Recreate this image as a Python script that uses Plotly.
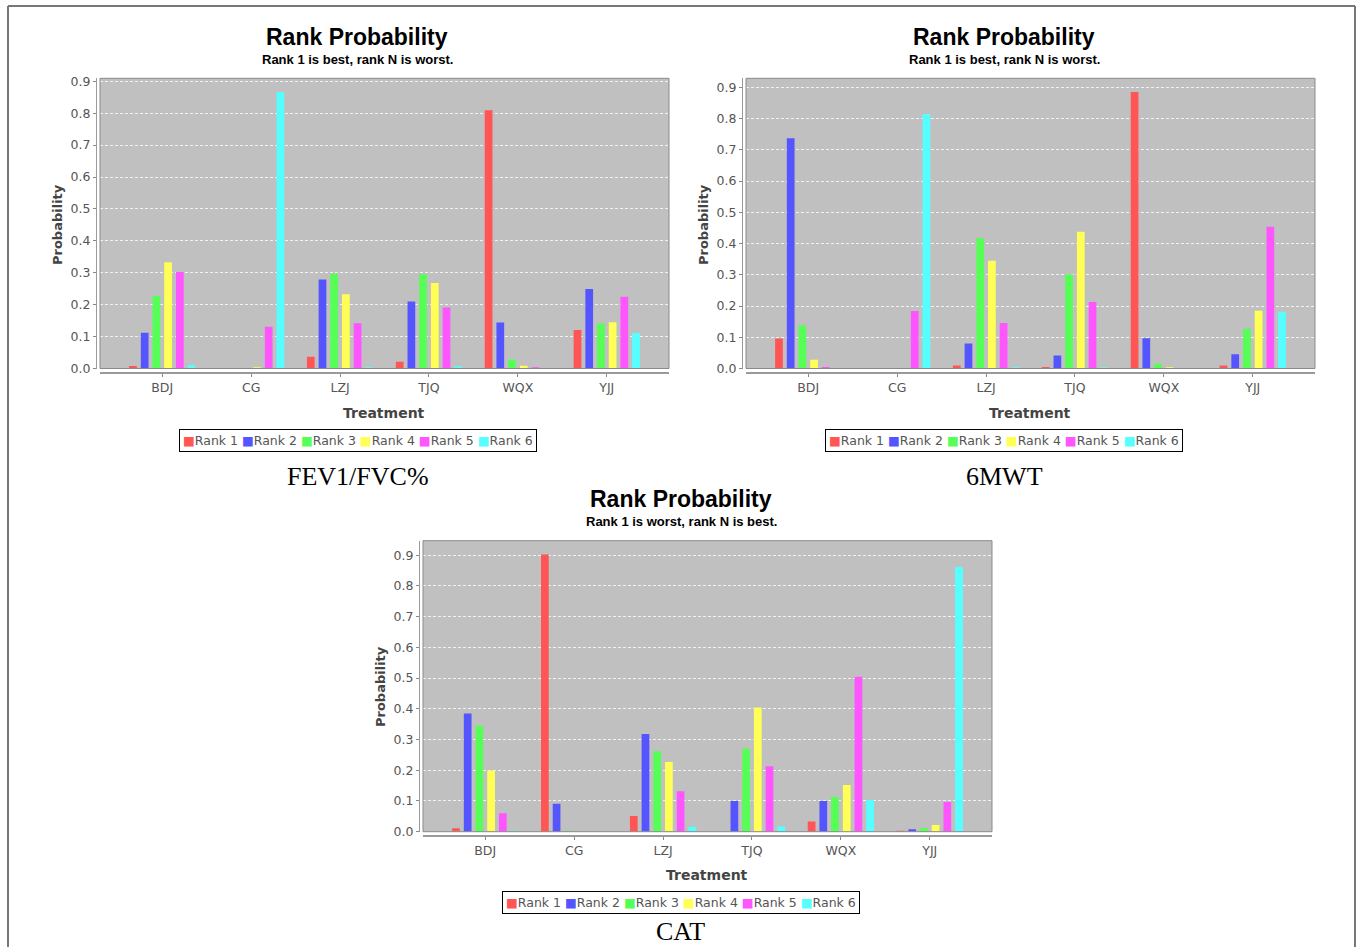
import plotly.graph_objects as go

W, H = 1357, 947

categories = ["BDJ", "CG", "LZJ", "TJQ", "WQX", "YJJ"]
rank_names = ["Rank 1", "Rank 2", "Rank 3", "Rank 4", "Rank 5", "Rank 6"]
rank_colors = ["#FF5555", "#5555FF", "#55FF55", "#FFFF55", "#FF55FF", "#55FFFF"]

# FEV1/FVC% : one list per rank, values across categories
fev_rank1 = [0.008, 0.000, 0.037, 0.021, 0.809, 0.121]
fev_rank2 = [0.112, 0.000, 0.279, 0.210, 0.144, 0.249]
fev_rank3 = [0.227, 0.000, 0.297, 0.295, 0.028, 0.141]
fev_rank4 = [0.333, 0.004, 0.233, 0.268, 0.009, 0.145]
fev_rank5 = [0.302, 0.131, 0.142, 0.191, 0.004, 0.225]
fev_rank6 = [0.010, 0.866, 0.004, 0.007, 0.000, 0.111]

# 6MWT
mwt_rank1 = [0.096, 0.000, 0.010, 0.005, 0.885, 0.010]
mwt_rank2 = [0.737, 0.000, 0.080, 0.042, 0.097, 0.046]
mwt_rank3 = [0.138, 0.000, 0.417, 0.302, 0.015, 0.127]
mwt_rank4 = [0.028, 0.000, 0.345, 0.438, 0.004, 0.185]
mwt_rank5 = [0.005, 0.184, 0.146, 0.213, 0.000, 0.454]
mwt_rank6 = [0.000, 0.815, 0.002, 0.002, 0.000, 0.182]

# CAT
cat_rank1 = [0.011, 0.902, 0.051, 0.000, 0.033, 0.002]
cat_rank2 = [0.385, 0.091, 0.318, 0.100, 0.100, 0.008]
cat_rank3 = [0.345, 0.003, 0.262, 0.270, 0.113, 0.012]
cat_rank4 = [0.199, 0.000, 0.227, 0.404, 0.152, 0.022]
cat_rank5 = [0.060, 0.000, 0.132, 0.213, 0.504, 0.097]
cat_rank6 = [0.003, 0.000, 0.016, 0.017, 0.103, 0.862]

fev = [fev_rank1, fev_rank2, fev_rank3, fev_rank4, fev_rank5, fev_rank6]
mwt = [mwt_rank1, mwt_rank2, mwt_rank3, mwt_rank4, mwt_rank5, mwt_rank6]
cat = [cat_rank1, cat_rank2, cat_rank3, cat_rank4, cat_rank5, cat_rank6]


def px(x):
    return x / W


def py(y):
    return 1 - y / H


panels = [
    dict(data=fev, sub="Rank 1 is best, rank N is worst.", caption="FEV1/FVC%",
         x0=100, x1=669, y0=78.3, y1=368.5, tx=357, ty=37, sy=59,
         ylx=57, yly=225, xlx=384, xly=413, lgx=358, lgy=440, cx=358, cy=476),
    dict(data=mwt, sub="Rank 1 is best, rank N is worst.", caption="6MWT",
         x0=746, x1=1315, y0=78.3, y1=368.5, tx=1004, ty=37, sy=59,
         ylx=703, yly=225, xlx=1030, xly=413, lgx=1004, lgy=440, cx=1004, cy=476),
    dict(data=cat, sub="Rank 1 is worst, rank N is best.", caption="CAT",
         x0=423, x1=992, y0=540.7, y1=831.7, tx=681, ty=499, sy=521,
         ylx=380, yly=687, xlx=707, xly=875, lgx=681, lgy=902, cx=680, cy=931),
]

fig = go.Figure()
annotations = []
shapes = []
layout_axes = {}

tick_font = dict(family="DejaVu Sans", size=12.5, color="#555555")


def ann(text, x, y, font, **kw):
    d = dict(text=text, x=px(x), y=py(y), xref="paper", yref="paper", showarrow=False,
             xanchor="center", yanchor="middle", font=font)
    d.update(kw)
    return d


for i, p in enumerate(panels):
    n = "" if i == 0 else str(i + 1)
    xa, ya = "x" + n, "y" + n
    for r in range(6):
        fig.add_trace(go.Bar(
            x=categories, y=p["data"][r], name=rank_names[r],
            marker=dict(color=rank_colors[r], line=dict(width=0)),
            xaxis=xa, yaxis=ya, showlegend=False,
        ))
    ymax = max(max(v) for v in p["data"]) * 1.05
    layout_axes["xaxis" + n] = dict(
        domain=[px(p["x0"]), px(p["x1"])], anchor="free", position=py(p["y1"] + 4.5),
        range=[-0.7, 5.7], type="category", showgrid=False, zeroline=False,
        showline=True, linecolor="#9a9a9a", linewidth=2, automargin=False,
        ticks="outside", ticklen=3, tickcolor="#888888", tickfont=tick_font,
    )
    layout_axes["yaxis" + n] = dict(
        domain=[py(p["y1"]), py(p["y0"])], anchor="free", position=px(p["x0"] - 4),
        range=[0, ymax], dtick=0.1, tickformat=".1f", automargin=False,
        showgrid=True, gridcolor="#f2f2f2", griddash="3px,2px", gridwidth=1,
        zeroline=False, showline=True, linecolor="#9a9a9a", linewidth=1,
        ticks="outside", ticklen=3, tickcolor="#888888", tickfont=tick_font,
    )
    # plot area border
    shapes.append(dict(type="rect", xref="paper", yref="paper",
                       x0=px(p["x0"]), x1=px(p["x1"]), y0=py(p["y1"]), y1=py(p["y0"]),
                       line=dict(color="#8a8a8a", width=1), fillcolor="rgba(0,0,0,0)"))
    annotations.append(ann("<b>Rank Probability</b>", p["tx"], p["ty"],
                           dict(family="Liberation Sans", size=23, color="black")))
    annotations.append(ann("<b>" + p["sub"] + "</b>", p["tx"], p["sy"],
                           dict(family="Liberation Sans", size=13, color="black")))
    annotations.append(ann("<b>Probability</b>", p["ylx"], p["yly"],
                           dict(family="DejaVu Sans", size=13, color="#444444"), textangle=-90))
    annotations.append(ann("<b>Treatment</b>", p["xlx"], p["xly"],
                           dict(family="DejaVu Sans", size=14, color="#444444")))
    legend_text = " ".join(
        "<span style='color:%s'>■</span>%s" % (c, nme) for c, nme in zip(rank_colors, rank_names)
    )
    annotations.append(ann(legend_text, p["lgx"], p["lgy"],
                           dict(family="DejaVu Sans", size=12.5, color="#555555"),
                           bordercolor="black", borderwidth=1, borderpad=3, bgcolor="white"))
    annotations.append(ann(p["caption"], p["cx"], p["cy"],
                           dict(family="Liberation Serif", size=26, color="black")))

# outer frame
for (x0, y0, x1, y1) in [(8, 6, 8, 947), (8, 6, 1355, 6), (1355, 6, 1355, 947)]:
    shapes.append(dict(type="line", xref="paper", yref="paper",
                       x0=px(x0), y0=py(y0), x1=px(x1), y1=py(y1),
                       line=dict(color="#777777", width=2)))

fig.update_layout(
    width=W, height=H, autosize=False,
    margin=dict(l=0, r=0, t=0, b=0, pad=0, autoexpand=False),
    paper_bgcolor="white", plot_bgcolor="#C0C0C0",
    barmode="group", bargap=0.21, bargroupgap=0.34,
    annotations=annotations, shapes=shapes, showlegend=False,
    **layout_axes,
)

fig.write_html(
    "out.html",
    config={"displayModeBar": False},
    post_script=(
        "document.documentElement.style.margin='0';"
        "document.documentElement.style.overflow='hidden';"
        "document.body.style.margin='0';document.body.style.overflow='hidden';"
    ),
)
